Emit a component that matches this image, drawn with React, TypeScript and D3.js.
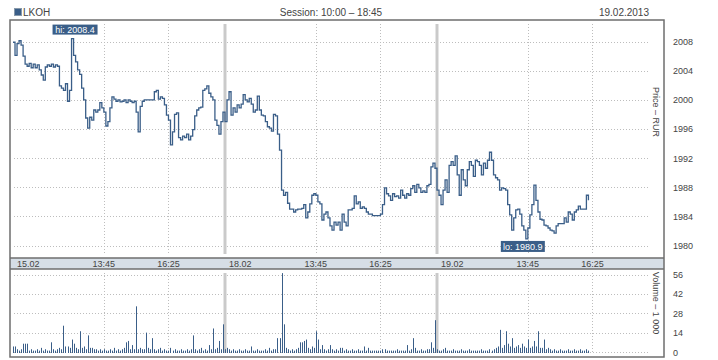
import * as d3 from "d3";

// three sessions, 5-minute closes, 10:00 – 18:40 (last day to 16:15)
const days = ["15.02", "18.02", "19.02"];
const timeLabels = ["13:45", "16:25"];
const timeMinutes = [225, 385];
const sessionMinutes = 525;
const stepMinutes = 5;

const priceTicks = [1980, 1984, 1988, 1992, 1996, 2000, 2004, 2008];
const volumeTicks = [0, 14, 28, 42, 56];

const price15 = [
  2007.9, 2006.1, 2007.7, 2008.1, 2007.5, 2006.0, 2004.9, 2004.6, 2005.0, 2004.4,
  2004.9, 2004.4, 2004.8, 2004.1, 2003.4, 2002.7, 2004.5, 2004.8, 2004.6, 2004.9,
  2004.5, 2004.8, 2004.6, 2001.9, 2001.6, 2001.3, 2002.2, 1999.8, 2001.3, 2008.4,
  2006.1, 2005.2, 2004.1, 2003.5, 2001.6, 2000.0, 1997.5, 1996.1, 1997.6, 1997.2,
  1998.6, 1998.3, 1998.6, 1999.6, 1998.9, 1998.3, 1996.4, 1997.0, 1998.9, 2000.4,
  2000.1, 1999.8, 2000.0, 1999.7, 1999.8, 2000.0, 1999.6, 2000.0, 1999.8, 1999.6,
  1999.8, 1998.3, 1995.6, 1999.1, 1999.8, 2000.0, 2000.0, 2000.0, 2000.0, 2000.0,
  2001.1, 2001.3, 2000.1, 2000.4, 2000.2, 1999.3, 1997.9, 1997.2, 1993.8, 1995.6,
  1998.0, 1998.2, 1994.8, 1994.5, 1995.0, 1994.8, 1995.3, 1994.5, 1995.0, 1995.9,
  1997.8, 1998.6, 1998.9, 1999.0, 2001.3, 2001.5, 2001.9, 2000.9, 2000.4, 2000.0,
  1997.2, 1996.5, 1995.3, 1997.0, 1998.3,
];
const price18 = [
  1997.0, 2000.0, 2001.1, 1997.9, 1998.9, 1998.3, 1999.3, 1998.9, 1999.4, 2000.7,
  2000.0, 1999.7, 2000.2, 1999.4, 1998.3, 1998.6, 2000.5, 1998.6, 1997.9, 1997.8,
  1997.0, 1996.3, 1996.1, 1995.7, 1998.0, 1997.8, 1995.3, 1993.1, 1987.6, 1986.9,
  1987.3, 1985.8, 1985.0, 1985.0, 1984.6, 1984.9, 1985.0, 1985.0, 1985.1, 1985.6,
  1983.8, 1984.6, 1985.7, 1986.9, 1987.1, 1986.9, 1986.0, 1985.7, 1983.5, 1984.3,
  1984.6, 1983.8, 1982.7, 1982.1, 1983.2, 1982.8, 1983.2, 1982.1, 1984.3, 1983.2,
  1982.7, 1984.9, 1984.9, 1985.1, 1986.8, 1985.7, 1986.0, 1985.1, 1985.3, 1985.1,
  1984.6, 1984.3, 1984.3, 1984.1, 1984.1, 1984.1, 1984.1, 1984.3, 1985.6, 1987.9,
  1987.1, 1986.8, 1986.2, 1987.1, 1986.7, 1986.8, 1986.5, 1987.6, 1986.9, 1986.5,
  1987.1, 1986.9, 1987.8, 1988.2, 1987.3, 1988.4, 1987.9, 1987.3, 1987.5, 1987.3,
  1988.2, 1988.4, 1990.8, 1991.3, 1990.6,
];
const price19 = [
  1987.6, 1986.9, 1985.6, 1987.6, 1989.0, 1987.3, 1991.0, 1991.5, 1991.0, 1992.3,
  1989.7, 1986.9, 1990.4, 1989.0, 1988.2, 1990.4, 1991.5, 1991.0, 1989.5, 1991.7,
  1991.5, 1991.0, 1989.7, 1991.3, 1990.6, 1991.7, 1992.8, 1991.7, 1989.7, 1989.3,
  1989.0, 1987.6, 1987.9, 1987.8, 1987.6, 1985.6, 1984.2, 1982.1, 1983.8, 1984.9,
  1985.0, 1984.3, 1982.7, 1982.1, 1980.9, 1982.4, 1984.2, 1985.6, 1988.3, 1986.2,
  1984.6, 1983.6, 1983.5, 1982.8, 1982.7, 1982.4, 1982.1, 1982.0, 1981.7, 1982.7,
  1983.0, 1983.0, 1983.0, 1983.8, 1983.2, 1984.6, 1984.3, 1983.5, 1984.6, 1984.9,
  1985.4, 1985.0, 1985.0, 1985.0, 1986.9, 1986.2,
];

// volume, thousands
const vol15 = [
  4, 4, 2, 1, 2, 6, 6, 6, 1, 2, 1, 1, 2, 1, 3, 1, 2, 1, 1, 7,
  2, 1, 2, 3, 2, 19, 4, 4, 3, 9, 6, 3, 2, 15, 3, 4, 2, 12, 3, 3,
  2, 2, 1, 2, 1, 2, 1, 1, 2, 1, 3, 1, 2, 1, 2, 3, 7, 8, 2, 5,
  2, 33, 2, 3, 2, 2, 14, 3, 2, 10, 2, 1, 2, 3, 1, 2, 1, 1, 3, 1,
  2, 1, 1, 2, 1, 1, 2, 1, 2, 12, 2, 1, 2, 3, 1, 2, 1, 5, 2, 17,
  2, 3, 8, 2, 20,
];
const vol18 = [
  2, 3, 2, 1, 2, 1, 1, 2, 1, 1, 2, 1, 1, 4, 1, 1, 2, 1, 1, 1,
  2, 1, 3, 1, 2, 2, 10, 10, 57, 20, 3, 2, 1, 2, 1, 2, 3, 7, 7, 8,
  9, 3, 2, 4, 3, 15, 9, 2, 5, 2, 1, 2, 5, 2, 1, 2, 1, 3, 3, 1,
  2, 1, 1, 2, 1, 1, 2, 1, 1, 4, 1, 3, 1, 1, 1, 1, 1, 1, 2, 2,
  1, 1, 1, 1, 1, 2, 1, 1, 1, 1, 5, 1, 2, 10, 3, 1, 1, 2, 1, 1,
  2, 2, 7, 3, 23,
];
const vol19 = [
  2, 1, 1, 2, 3, 1, 1, 1, 2, 1, 1, 1, 2, 1, 1, 1, 2, 1, 1, 1,
  1, 1, 2, 1, 1, 1, 2, 1, 2, 3, 4, 16, 3, 5, 15, 6, 4, 10, 3, 4,
  5, 3, 6, 4, 3, 9, 3, 4, 8, 4, 15, 3, 3, 9, 2, 3, 2, 1, 2, 1,
  1, 2, 1, 1, 1, 2, 1, 1, 2, 1, 1, 2, 1, 1, 2, 1,
];

const prices = [price15, price18, price19];
const volumes = [vol15, vol18, vol19];

type Pt = { t: number; p: number; v: number };

const blue = "#3a5e88";
const textColor = "#444";
const font = "'Liberation Sans', Arial, sans-serif";

export default function App() {
  const W = 718;
  const H = 360;
  const left = 10, right = 664, top = 20;
  const priceBottom = 258, bandBottom = 269, bottom = 357;

  const data: Pt[] = prices.flatMap((arr, d) =>
    arr.map((p, i) => ({ t: d * sessionMinutes + i * stepMinutes, p, v: volumes[d][i] }))
  );

  const x = d3.scaleLinear().domain([0, days.length * sessionMinutes]).range([13, 649]);
  const y = d3.scaleLinear().domain([1980, 2008]).range([245.5, 41.5]);
  const yv = d3.scaleLinear().domain([0, 56]).range([352, 274.5]);

  const line = d3.line<Pt>()
    .x(d => x(d.t))
    .y(d => y(d.p))
    .curve(d3.curveStepAfter);

  const hi = data[d3.maxIndex(data, d => d.p)];
  const lo = data[d3.minIndex(data, d => d.p)];

  const gridX = days.flatMap((_, d) => timeMinutes.map(m => x(d * sessionMinutes + m)));
  const seps = days.slice(1).map((_, d) => x((d + 1) * sessionMinutes));
  const crisp = (v: number) => Math.round(v) + 0.5;

  const hiText = `hi: ${hi.p.toFixed(1)}`;
  const loText = `lo: ${lo.p.toFixed(1)}`;

  return (
    <svg width={W} height={H} style={{ position: "absolute", left: 0, top: 0, background: "#fff" }}
      fontFamily={font}>
      {/* header */}
      <rect x={14.5} y={8.5} width={7} height={7} fill={blue} stroke="#8899aa" />
      <text x={23} y={16} fontSize={10} fill={textColor}>LKOH</text>
      <text x={331} y={16} fontSize={10} fill={textColor} textAnchor="middle">Session: 10:00 – 18:45</text>
      <text x={649} y={16} fontSize={10} fill={textColor} textAnchor="end">19.02.2013</text>

      {/* date band */}
      <rect x={left} y={priceBottom} width={right - left} height={bandBottom - priceBottom} fill="#d6dee6" />

      {/* price grid */}
      <g stroke="#bdbdbd" strokeDasharray="1 2" strokeWidth={1}>
        {priceTicks.map(t => (
          <line key={"hp" + t} x1={14} x2={649} y1={crisp(y(t))} y2={crisp(y(t))} />
        ))}
        {gridX.map((gx, i) => (
          <line key={"vp" + i} x1={crisp(gx)} x2={crisp(gx)} y1={24} y2={254} />
        ))}
        {volumeTicks.map(t => (
          <line key={"hv" + t} x1={14} x2={649} y1={crisp(yv(t))} y2={crisp(yv(t))} />
        ))}
        {gridX.map((gx, i) => (
          <line key={"vv" + i} x1={crisp(gx)} x2={crisp(gx)} y1={273} y2={353} />
        ))}
      </g>

      {/* day separators */}
      <g stroke="#cacaca" strokeWidth={3}>
        {seps.map((sx, i) => (
          <g key={"s" + i}>
            <line x1={sx} x2={sx} y1={24} y2={254} />
            <line x1={sx} x2={sx} y1={273} y2={353} />
          </g>
        ))}
      </g>

      {/* price line */}
      <path d={line(data) ?? ""} fill="none" stroke={blue} strokeWidth={1.3} />

      {/* volume bars */}
      <g fill={blue}>
        {data.map((d, i) => (
          <rect key={"v" + i} x={Math.round(x(d.t))} width={1} y={yv(d.v)} height={yv(0) - yv(d.v) + 1} />
        ))}
      </g>

      {/* hi / lo markers */}
      <rect x={x(hi.t) - 19} y={y(hi.p) - 14} width={45} height={10} fill={blue} />
      <text x={x(hi.t) + 3.5} y={y(hi.p) - 6} fontSize={9} fill="#fff" textAnchor="middle">{hiText}</text>
      <rect x={x(lo.t) - 25} y={y(lo.p) + 2} width={44} height={11} fill={blue} />
      <text x={x(lo.t) - 3} y={y(lo.p) + 11} fontSize={9} fill="#fff" textAnchor="middle">{loText}</text>

      {/* frame */}
      <g fill="none" stroke="#6e6e6e" strokeWidth={1.5}>
        <rect x={left} y={top} width={right - left} height={bottom - top} />
        <line x1={left} x2={right} y1={priceBottom} y2={priceBottom} />
        <line x1={left} x2={right} y1={bandBottom} y2={bandBottom} />
      </g>

      {/* band labels */}
      <g fontSize={9} fill={textColor}>
        {days.map((d, i) => (
          <text key={"d" + d} x={x(i * sessionMinutes) + 4} y={267}>{d}</text>
        ))}
        {days.flatMap((_, d) => timeMinutes.map((m, j) => (
          <text key={`t${d}-${j}`} x={x(d * sessionMinutes + m)} y={267} textAnchor="middle">{timeLabels[j]}</text>
        )))}
      </g>

      {/* right axes */}
      <g fontSize={9} fill={textColor}>
        {priceTicks.map(t => (
          <text key={"pt" + t} x={673} y={y(t) + 3.5}>{t}</text>
        ))}
        {volumeTicks.map(t => (
          <text key={"vt" + t} x={673} y={yv(t) + 3.5}>{t}</text>
        ))}
        <text transform="translate(653,112) rotate(90)" textAnchor="middle">Price – RUR</text>
        <text transform="translate(653,303) rotate(90)" textAnchor="middle">Volume – 1 000</text>
      </g>
    </svg>
  );
}
